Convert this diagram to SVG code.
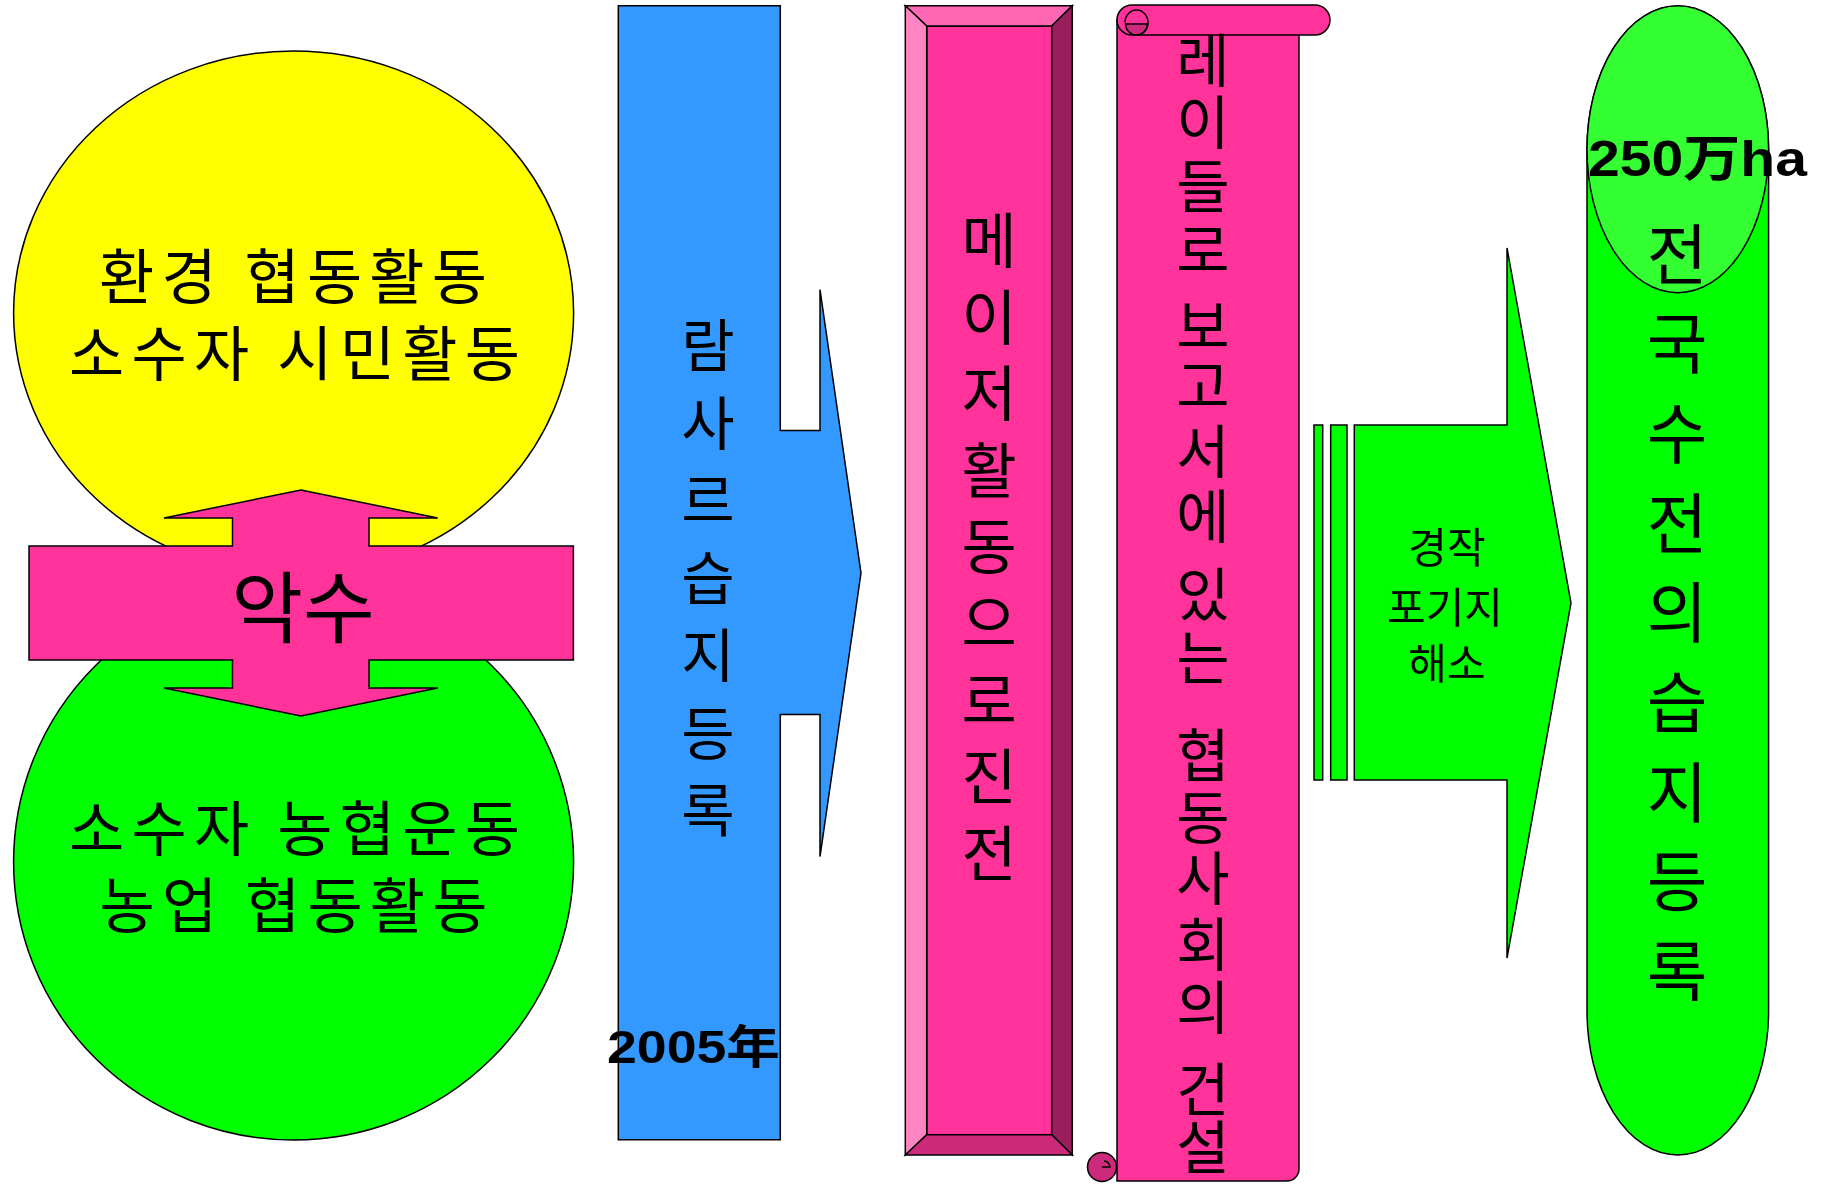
<svg xmlns="http://www.w3.org/2000/svg" width="1830" height="1184" viewBox="0 0 1830 1184">
<style>
.s{stroke:#000;stroke-width:1.5;stroke-linejoin:miter}
.kr{font-family:"Noto Sans CJK KR","Noto Sans",sans-serif;fill:#000;text-anchor:middle;dominant-baseline:central}
.bd{font-family:"Liberation Sans","Noto Sans CJK SC",sans-serif;font-weight:bold;fill:#000}
</style>
<rect width="1830" height="1184" fill="#fff"/>
<g id="left-top-circle">
<ellipse class="s" cx="293.6" cy="313" rx="280" ry="262" fill="#FFFF00"/>
<text class="kr" font-size="60"><tspan x="293" y="272" textLength="388">환경 협동활동</tspan><tspan x="294.5" y="349" textLength="451">소수자 시민활동</tspan></text>
</g>
<g id="left-bottom-circle">
<ellipse class="s" cx="293.6" cy="862" rx="280" ry="278" fill="#00FF00"/>
<text class="kr" font-size="60"><tspan x="294.5" y="824" textLength="451">소수자 농협운동</tspan><tspan x="293.5" y="901" textLength="388">농업 협동활동</tspan></text>
</g>
<g id="handshake-arrow">
<polygon class="s" fill="#FF3399" points="301,490 437.7,518 369,518 369,546 573.4,546 573.4,660 369,660 369,688 437.7,688 301,716 164,688 232.5,688 232.5,660 29,660 29,546 232.5,546 232.5,518 164,518"/>
<text class="kr" font-size="78" x="303" y="603">악수</text>
</g>
<g id="ramsar-arrow">
<polygon class="s" fill="#3399FF" points="618.3,5.7 780.3,5.7 780.3,430.5 820,430.5 820,289.7 861,573 820,856.6 820,714.4 780.3,714.4 780.3,1139.7 618.3,1139.7"/>
<text class="kr" font-size="58">
<tspan x="708" y="342">람</tspan><tspan x="708" y="419.5">사</tspan><tspan x="708" y="497">르</tspan><tspan x="708" y="574.5">습</tspan><tspan x="708" y="652">지</tspan><tspan x="708" y="729.5">등</tspan><tspan x="708" y="807">록</tspan>
</text>
<text class="bd" font-size="46" x="607" y="1063" textLength="173" lengthAdjust="spacingAndGlyphs">2005年</text>
</g>
<g id="major-bevel">
<rect class="s" x="926.7" y="26" width="125" height="1108.7" fill="#FF3399"/>
<polygon class="s" fill="#FF66B3" points="905.3,5.7 1072.3,5.7 1051.7,26 926.7,26"/>
<polygon class="s" fill="#FF85C2" points="905.3,5.7 926.7,26 926.7,1134.7 905.3,1155"/>
<polygon class="s" fill="#991F5C" points="1072.3,5.7 1072.3,1155 1051.7,1134.7 1051.7,26"/>
<polygon class="s" fill="#CC297A" points="905.3,1155 926.7,1134.7 1051.7,1134.7 1072.3,1155"/>
<text class="kr" font-size="60">
<tspan x="989" y="236">메</tspan><tspan x="989" y="312.6">이</tspan><tspan x="989" y="389.2">저</tspan><tspan x="989" y="465.8">활</tspan><tspan x="989" y="542.4">동</tspan><tspan x="989" y="619">으</tspan><tspan x="989" y="695.6">로</tspan><tspan x="989" y="772.2">진</tspan><tspan x="989" y="848.8">전</tspan>
</text>
</g>
<g id="laidlaw-scroll">
<path class="s" fill="#FF3399" d="M1117,20 V1181 H1287 A12,12 0 0 0 1299,1169 V20 Z"/>
<rect class="s" x="1117" y="5" width="213" height="30" rx="15" ry="15" fill="#FF3399"/>
<path class="s" fill="#CC2A7A" d="M1125.5,24 A11,11 0 0 0 1147.5,24 Z"/>
<path class="s" fill="none" d="M1136.5,35 A11.5,12.5 0 1 0 1125,22.5"/>
<circle class="s" cx="1102" cy="1167" r="14.5" fill="#CC2A7A"/>
<path class="s" fill="none" d="M1102,1167 H1110 A6,6 0 0 0 1104,1161"/>
<text class="kr" font-size="58">
<tspan x="1203" y="57">레</tspan><tspan x="1203" y="119">이</tspan><tspan x="1203" y="183">들</tspan><tspan x="1203" y="247">로</tspan><tspan x="1203" y="323">보</tspan><tspan x="1203" y="383">고</tspan><tspan x="1203" y="448">서</tspan><tspan x="1203" y="513">에</tspan><tspan x="1203" y="591">있</tspan><tspan x="1203" y="654">는</tspan><tspan x="1203" y="752">협</tspan><tspan x="1203" y="814">동</tspan><tspan x="1203" y="875">사</tspan><tspan x="1203" y="941">회</tspan><tspan x="1203" y="1004">의</tspan><tspan x="1203" y="1086">건</tspan><tspan x="1203" y="1144">설</tspan>
</text>
</g>
<g id="abandoned-arrow">
<rect class="s" x="1314" y="425" width="8.7" height="355" fill="#00FF00"/>
<rect class="s" x="1330.7" y="425" width="16.3" height="355" fill="#00FF00"/>
<polygon class="s" fill="#00FF00" points="1354.3,425 1507,425 1507,248 1571,603 1507,958 1507,780 1354.3,780"/>
<text class="kr" font-size="42"><tspan x="1447" y="544">경작</tspan><tspan x="1445" y="603.5">포기지</tspan><tspan x="1447" y="660">해소</tspan></text>
</g>
<g id="national-capsule">
<path class="s" fill="#00FF00" d="M1587,150 A90.8,144 0 0 1 1768.6,150 V1011 A90.8,144 0 0 1 1587,1011 Z"/>
<ellipse class="s" cx="1677.8" cy="149.2" rx="90.8" ry="143.5" fill="#33FF33"/>
<text class="bd" font-size="50" x="1588" y="176" textLength="219" lengthAdjust="spacingAndGlyphs">250万ha</text>
<text class="kr" font-size="66">
<tspan x="1677" y="249.5">전</tspan><tspan x="1677" y="339.2">국</tspan><tspan x="1677" y="428.9">수</tspan><tspan x="1677" y="518.6">전</tspan><tspan x="1677" y="608.3">의</tspan><tspan x="1677" y="698">습</tspan><tspan x="1677" y="787.7">지</tspan><tspan x="1677" y="877.4">등</tspan><tspan x="1677" y="967.1">록</tspan>
</text>
</g>
<g id="connectors"></g>
</svg>
